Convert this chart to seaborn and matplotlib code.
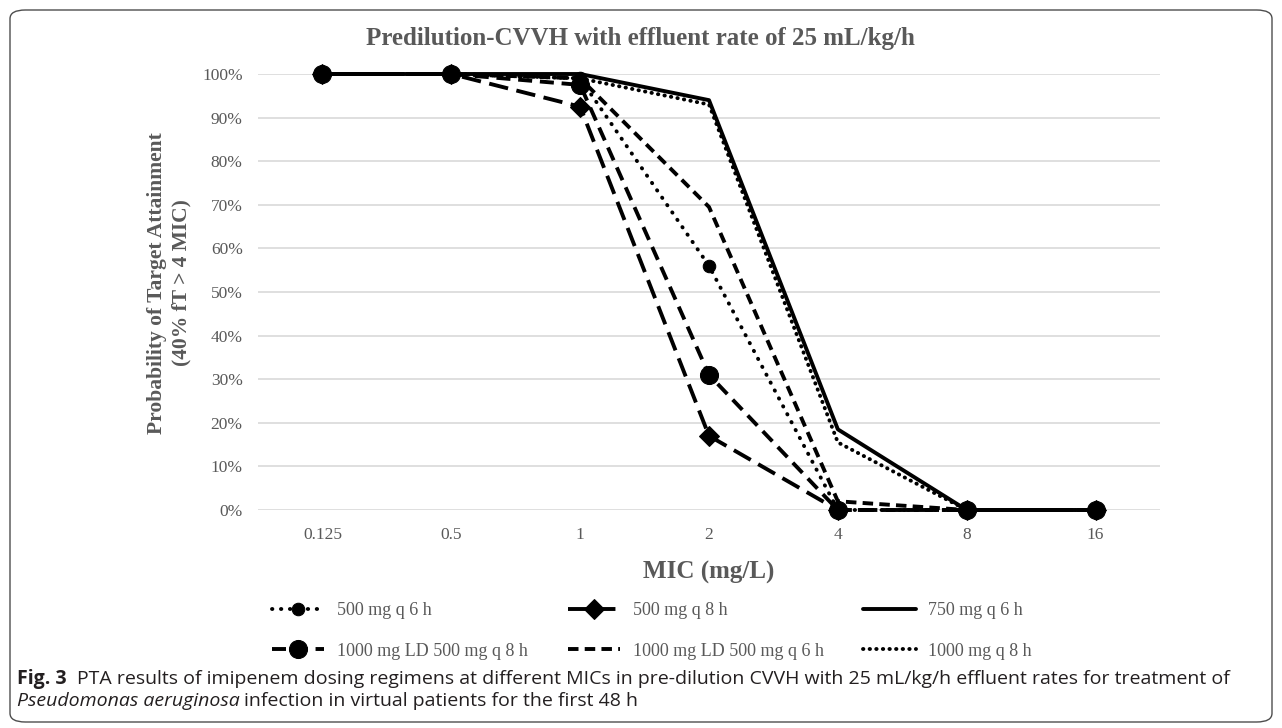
import numpy as np
import pandas as pd
import matplotlib
matplotlib.use("Agg")
import matplotlib.pyplot as plt
import seaborn as sns
from matplotlib.patches import FancyBboxPatch
from matplotlib.ticker import PercentFormatter, MultipleLocator

# data
mic_labels = ["0.125", "0.5", "1", "2", "4", "8", "16"]
pta_500_q6 = [1.00, 1.00, 0.99, 0.56, 0.00, 0.00, 0.00]
pta_500_q8 = [1.00, 1.00, 0.925, 0.17, 0.00, 0.00, 0.00]
pta_750_q6 = [1.00, 1.00, 1.00, 0.94, 0.185, 0.00, 0.00]
pta_ld_q8 = [1.00, 1.00, 0.975, 0.31, 0.00, 0.00, 0.00]
pta_ld_q6 = [1.00, 1.00, 0.99, 0.695, 0.02, 0.00, 0.00]
pta_1000_q8 = [1.00, 1.00, 0.99, 0.93, 0.155, 0.00, 0.00]

series_names = ["500 mg q 6 h", "500 mg q 8 h", "750 mg q 6 h",
                "1000 mg LD 500 mg q 8 h", "1000 mg LD 500 mg q 6 h", "1000 mg q 8 h"]

sns.set_theme(style="white")
plt.rcParams["font.family"] = ["Liberation Serif", "DejaVu Serif"]

cap_font = "Open Sans"
grey = "#595959"

fig = plt.figure(figsize=(12.82, 7.28), dpi=100)
ax = fig.add_axes([258 / 1282, 1 - 510 / 728, 902 / 1282, 436 / 728])

styles = [
    dict(linestyle=(0, (0.1, 2.2)), dash_capstyle="round", marker="o", markersize=9),
    dict(linestyle=(0, (5, 2.2)), marker="D", markersize=10),
    dict(linestyle="-", marker=None),
    dict(linestyle=(0, (3.6, 2.0)), marker="o", markersize=13),
    dict(linestyle=(0, (2.7, 1.6)), marker=None),
    dict(linestyle=(0, (0.1, 1.6)), dash_capstyle="round", marker=None),
]
values = [pta_500_q6, pta_500_q8, pta_750_q6, pta_ld_q8, pta_ld_q6, pta_1000_q8]

for name, vals, st in zip(series_names, values, styles):
    df = pd.DataFrame({"MIC": mic_labels, "PTA": vals})
    sns.lineplot(data=df, x="MIC", y="PTA", ax=ax, sort=False, color="black",
                 linewidth=2.8, label=name, clip_on=False,
                 markeredgecolor="black", markerfacecolor="black", **st)

ax.set_xlim(-0.5, 6.5)
ax.set_ylim(0, 1.0)
ax.yaxis.set_major_locator(MultipleLocator(0.1))
ax.yaxis.set_major_formatter(PercentFormatter(1, decimals=0))
ax.yaxis.grid(True, color="#d9d9d9", linewidth=1.2)
ax.xaxis.grid(False)
for s in ax.spines.values():
    s.set_visible(False)
ax.tick_params(axis="both", length=0, labelsize=12.5, labelcolor=grey)
ax.tick_params(axis="y", pad=11)
ax.tick_params(axis="x", pad=12)
ax.set_xlabel("")
ax.set_ylabel("")
ax.get_legend().remove()

fig.text(640 / 1282, 1 - 39 / 728, "Predilution-CVVH with effluent rate of 25 mL/kg/h",
         ha="center", va="center", fontsize=18, fontweight="bold", color=grey)
fig.text(709 / 1282, 1 - 572 / 728, "MIC (mg/L)", ha="center", va="center",
         fontsize=18, fontweight="bold", color=grey)
fig.text(169 / 1282, 1 - 283 / 728, "Probability of Target Attainment\n(40% fT > 4 MIC)",
         ha="center", va="center", rotation=90, multialignment="center",
         fontsize=15.5, fontweight="bold", color=grey, linespacing=1.3)

handles = list(ax.get_lines()[:6])
order = [0, 3, 1, 4, 2, 5]
fig.legend([handles[i] for i in order], [series_names[i] for i in order],
           loc="center", bbox_to_anchor=(652 / 1282, 1 - 631 / 728), ncol=3,
           frameon=False, fontsize=13, labelcolor=grey, handlelength=2.9,
           handletextpad=0.7, columnspacing=2.2, labelspacing=1.3, numpoints=1)

# frame around chart + caption
fig.patches.append(FancyBboxPatch((10 / 1282, 6 / 728), 1262 / 1282, 712 / 728,
                                  boxstyle="round,pad=0,rounding_size=0.012",
                                  transform=fig.transFigure, fill=False,
                                  edgecolor="#4d4d4d", linewidth=1.0))

cap_col = "#231f20"
fig.canvas.draw()
r = fig.canvas.get_renderer()
W = fig.bbox.width
y1 = 1 - 679 / 728
y2 = 1 - 701 / 728
t1 = fig.text(17 / 1282, y1, "Fig. 3", fontfamily=cap_font, fontweight="bold",
              fontsize=14, color=cap_col, va="center")
x1 = t1.get_window_extent(r).x1 / W
fig.text(x1 + 10 / 1282, y1, "PTA results of imipenem dosing regimens at different MICs in "
         "pre-dilution CVVH with 25 mL/kg/h effluent rates for treatment of",
         fontfamily=cap_font, fontsize=14, color=cap_col, va="center")
t3 = fig.text(17 / 1282, y2, "Pseudomonas aeruginosa", fontfamily=cap_font, style="italic",
              fontsize=14, color=cap_col, va="center")
x3 = t3.get_window_extent(r).x1 / W
fig.text(x3 + 4 / 1282, y2, "infection in virtual patients for the first 48 h",
         fontfamily=cap_font, fontsize=14, color=cap_col, va="center")

fig.savefig("out.png", dpi=100)
